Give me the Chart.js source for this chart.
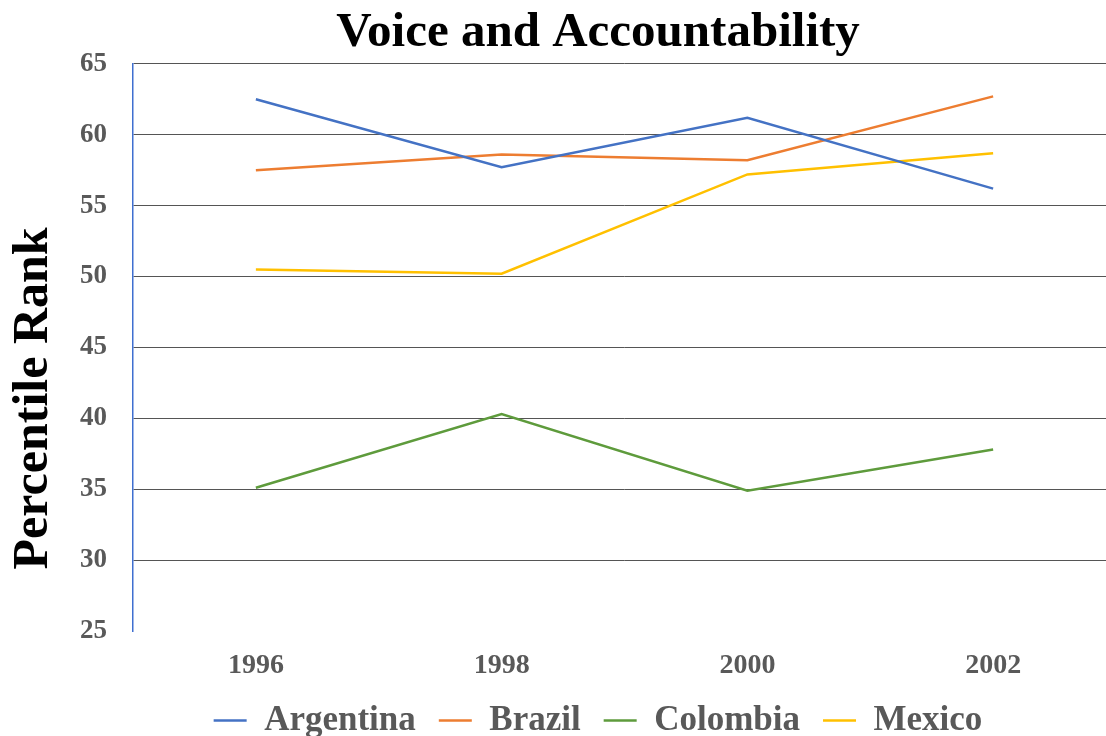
<!DOCTYPE html>
<html>
<head>
<meta charset="utf-8">
<title>Voice and Accountability</title>
<script src="https://cdn.jsdelivr.net/npm/chart.js@4.4.0/dist/chart.umd.min.js"></script>
<style>
  html, body { margin: 0; padding: 0; background: #fff; overflow: hidden; }
  #wrap { width: 1116px; height: 748px; }
</style>
</head>
<body>
<div id="wrap"><canvas id="chart" width="1116" height="748"></canvas></div>
<script>
// Percentile rank by year, per country
const years = ['1996', '1998', '2000', '2002'];
const argentina = [62.5, 57.7, 61.2, 56.2];
const brazil = [57.5, 58.6, 58.2, 62.7];
const colombia = [35.1, 40.3, 34.9, 37.8];
const mexico = [50.5, 50.2, 57.2, 58.7];

const yMin = 25;
const yMax = 65;
const yStep = 5;

const serif = '"Liberation Serif", "Times New Roman", serif';
const tickGray = '#595959';

// rotated axis caption, drawn in the left padding area
const yCaption = {
  id: 'yCaption',
  afterDraw(chart) {
    const ctx = chart.ctx;
    const area = chart.chartArea;
    ctx.save();
    ctx.translate(area.left - 86, (area.top + area.bottom) / 2 + 51);
    ctx.rotate(-Math.PI / 2);
    ctx.font = 'bold 50px ' + serif;
    ctx.fillStyle = '#000';
    ctx.textAlign = 'center';
    ctx.textBaseline = 'alphabetic';
    ctx.fillText('Percentile Rank', 0, 0);
    ctx.restore();
  }
};

function series(label, data, color) {
  return {
    label: label,
    data: data,
    borderColor: color,
    backgroundColor: color,
    borderWidth: 2.5,
    pointRadius: 0,
    tension: 0
  };
}

new Chart(document.getElementById('chart').getContext('2d'), {
  type: 'line',
  data: {
    labels: years,
    datasets: [
      series('Argentina', argentina, '#4472C4'),
      series('Brazil', brazil, '#ED7D31'),
      series('Colombia', colombia, '#5E9B3C'),
      series('Mexico', mexico, '#FFC000')
    ]
  },
  options: {
    responsive: false,
    animation: false,
    layout: {
      padding: { left: 80, right: 0, top: 0, bottom: 0 }
    },
    plugins: {
      title: {
        display: true,
        text: 'Voice and Accountability',
        color: '#000',
        font: { family: serif, size: 49, weight: 'bold' },
        padding: { top: 4, bottom: 1 }
      },
      legend: {
        position: 'bottom',
        labels: {
          usePointStyle: true,
          pointStyle: 'line',
          pointStyleWidth: 33,
          color: tickGray,
          padding: 23,
          font: { family: serif, size: 35, weight: 'bold' }
        }
      },
      tooltip: { enabled: false }
    },
    scales: {
      x: {
        offset: true,
        grid: { display: false, drawTicks: false, tickLength: 0 },
        border: { display: false },
        ticks: {
          color: tickGray,
          padding: 18,
          font: { family: serif, size: 28, weight: 'bold' }
        },
        // keep the legend tucked up under the year labels
        afterFit(axis) {
          axis.height = 49;
        }
      },
      y: {
        min: yMin,
        max: yMax,
        grid: {
          drawTicks: false,
          color: ctx => ctx.tick && ctx.tick.value === yMin ? 'rgba(0,0,0,0)' : '#555',
          lineWidth: 1
        },
        border: { color: '#3F6FD0', width: 1.5 },
        ticks: {
          stepSize: yStep,
          color: tickGray,
          padding: 13,
          crossAlign: 'far',
          font: { family: serif, size: 27, weight: 'bold' }
        }
      }
    }
  },
  plugins: [yCaption]
});
</script>
</body>
</html>
